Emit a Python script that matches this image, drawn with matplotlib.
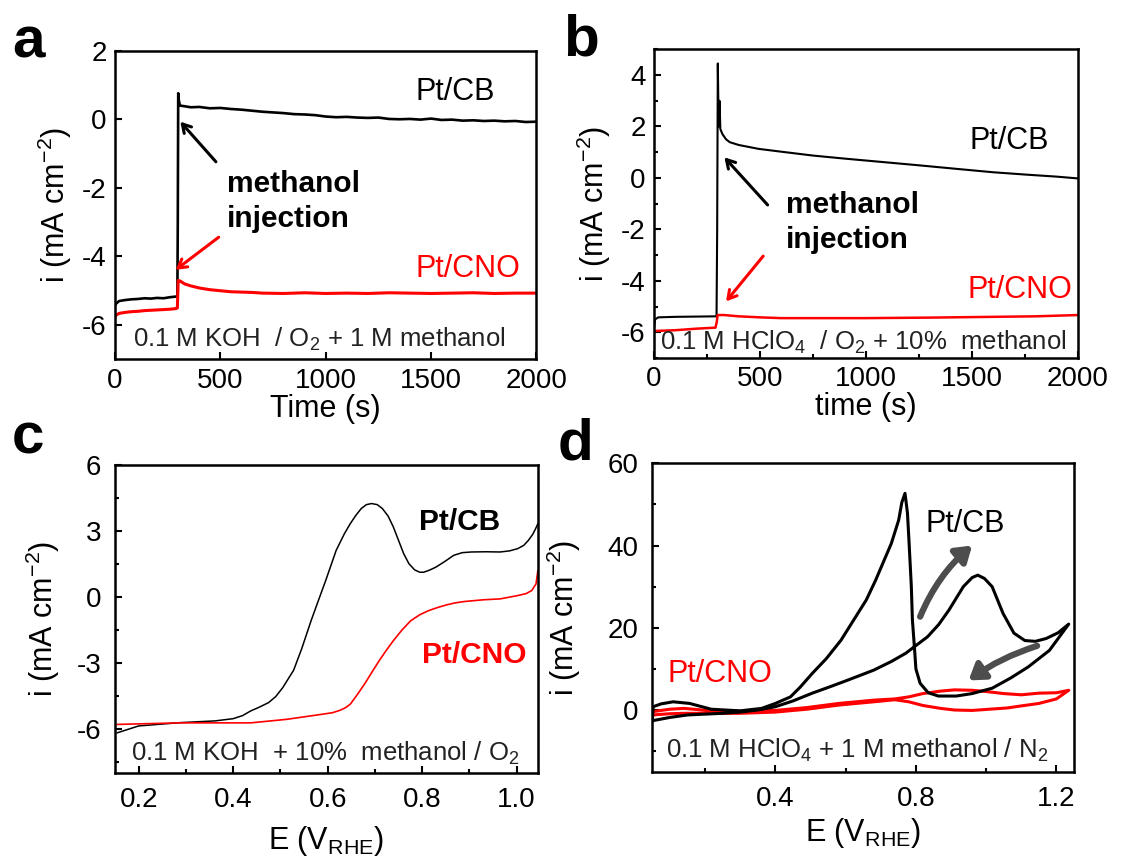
import matplotlib
matplotlib.use("Agg")
import matplotlib.pyplot as plt
from matplotlib.ticker import MultipleLocator

plt.rcParams['font.family'] = ['Liberation Sans', 'DejaVu Sans']
plt.rcParams['mathtext.fontset'] = 'custom'
plt.rcParams['mathtext.rm'] = 'Liberation Sans'
plt.rcParams['mathtext.it'] = 'Liberation Sans:italic'
plt.rcParams['mathtext.bf'] = 'Liberation Sans:bold'
plt.rcParams['axes.unicode_minus'] = False

# ---------------- (a) chronoamperometry, 0.1 M KOH ----------------
a_t_cb = [0, 8, 20, 50, 80, 110, 140, 170, 200, 230, 260, 290, 296, 298, 300, 303, 308,
          330, 360, 400, 450, 500, 550, 600, 650, 700, 750, 800, 850, 900, 950, 1000,
          1050, 1100, 1150, 1200, 1250, 1300, 1350, 1400, 1450, 1500, 1550, 1600, 1650,
          1700, 1750, 1800, 1850, 1900, 1950, 2000]
a_i_cb = [-5.42, -5.36, -5.30, -5.27, -5.25, -5.24, -5.22, -5.23, -5.21, -5.22, -5.19, -5.17,
          -5.15, -3.00, 0.76, 0.55, 0.40, 0.38, 0.35, 0.36, 0.32, 0.33, 0.30, 0.28, 0.25,
          0.22, 0.20, 0.18, 0.15, 0.14, 0.12, 0.08, 0.06, 0.07, 0.05, 0.04, 0.05, 0.01,
          0.00, 0.01, -0.01, 0.02, -0.02, -0.01, -0.04, -0.03, -0.05, -0.04, -0.06, -0.05,
          -0.08, -0.07]
a_t_cno = [0, 8, 20, 50, 80, 110, 140, 170, 200, 230, 260, 290, 296, 300, 310, 330, 360,
           400, 450, 500, 550, 600, 650, 700, 800, 900, 1000, 1100, 1200, 1300, 1400,
           1500, 1600, 1700, 1800, 1900, 2000]
a_i_cno = [-5.75, -5.70, -5.66, -5.63, -5.61, -5.60, -5.58, -5.57, -5.56, -5.55, -5.54,
           -5.52, -5.50, -4.70, -4.72, -4.80, -4.86, -4.92, -4.97, -5.00, -5.03, -5.04,
           -5.05, -5.07, -5.08, -5.06, -5.08, -5.07, -5.08, -5.06, -5.07, -5.08, -5.07,
           -5.06, -5.08, -5.07, -5.07]

# ---------------- (b) chronoamperometry, 0.1 M HClO4 ----------------
b_t_cb = [0, 5, 20, 100, 200, 295, 298, 301, 305, 309, 313, 323, 340, 357, 400, 493, 600,
          749, 900, 1089, 1250, 1430, 1600, 1770, 1900, 2000]
b_i_cb = [-5.85, -5.50, -5.42, -5.40, -5.39, -5.38, -2.00, 4.45, 2.00, 3.00, 1.90, 1.70,
          1.50, 1.39, 1.28, 1.13, 1.02, 0.87, 0.75, 0.61, 0.49, 0.35, 0.22, 0.12, 0.05,
          -0.02]
b_t_cno = [0, 100, 200, 290, 296, 300, 330, 400, 500, 600, 1000, 1300, 1500, 1800, 2000]
b_i_cno = [-5.95, -5.92, -5.86, -5.82, -5.60, -5.33, -5.33, -5.38, -5.42, -5.45, -5.45,
           -5.43, -5.41, -5.38, -5.33]

# ---------------- (c) LSV, 0.1 M KOH + 10% methanol / O2 ----------------
c_e_cb = [0.155, 0.20, 0.287, 0.362, 0.40, 0.42, 0.437, 0.455, 0.475, 0.49, 0.505, 0.528,
          0.545, 0.565, 0.58, 0.596, 0.618, 0.635, 0.648, 0.660, 0.671, 0.682, 0.693,
          0.705, 0.716, 0.728, 0.739, 0.750, 0.761, 0.772, 0.784, 0.795, 0.803, 0.815,
          0.829, 0.848, 0.867, 0.885, 0.904, 0.935, 0.965, 0.985, 1.002, 1.015, 1.025,
          1.034, 1.04, 1.045]
c_i_cb = [-6.16, -5.85, -5.70, -5.62, -5.52, -5.38, -5.17, -5.00, -4.79, -4.52, -4.11,
          -3.32, -2.35, -1.07, -0.18, 0.76, 2.12, 2.86, 3.34, 3.72, 4.02, 4.20, 4.25,
          4.20, 4.02, 3.68, 3.19, 2.58, 1.97, 1.52, 1.24, 1.13, 1.13, 1.22, 1.36, 1.62,
          1.90, 2.02, 2.05, 2.06, 2.05, 2.10, 2.20, 2.35, 2.58, 2.85, 3.10, 3.34]
c_e_cno = [0.155, 0.287, 0.437, 0.513, 0.588, 0.610, 0.626, 0.638, 0.648, 0.662, 0.678,
           0.694, 0.709, 0.724, 0.739, 0.757, 0.776, 0.795, 0.814, 0.833, 0.852, 0.870,
           0.889, 0.93, 0.965, 1.002, 1.02, 1.032, 1.041, 1.045]
c_i_cno = [-5.78, -5.71, -5.71, -5.55, -5.32, -5.25, -5.14, -5.02, -4.86, -4.45, -3.95,
           -3.40, -2.89, -2.42, -1.98, -1.50, -1.07, -0.80, -0.61, -0.47, -0.35, -0.26,
           -0.20, -0.12, -0.08, 0.07, 0.16, 0.30, 0.60, 1.21]

# ---------------- (d) CV, 0.1 M HClO4 + 1 M methanol / N2 ----------------
d_e_cb = [0.05, 0.10, 0.15, 0.25, 0.30, 0.35, 0.40, 0.45, 0.505, 0.56, 0.607, 0.68, 0.73,
          0.771, 0.833, 0.865, 0.894, 0.935, 0.96, 0.976, 0.995, 1.017, 1.048, 1.079,
          1.11, 1.14, 1.171, 1.205, 1.235,
          1.18, 1.12, 1.07, 1.017, 0.96, 0.915, 0.864, 0.835, 0.812, 0.80, 0.797, 0.79,
          0.787, 0.781, 0.776, 0.769, 0.76, 0.751, 0.73, 0.71, 0.685, 0.659, 0.62,
          0.587, 0.545, 0.505, 0.47, 0.443, 0.40, 0.361, 0.30, 0.217, 0.156, 0.109,
          0.075, 0.052, 0.05]
d_i_cb = [-2.6, -1.8, -1.2, -0.8, -0.5, 0.0, 0.8, 2.2, 4.1, 5.8, 7.3, 9.7, 11.8, 13.8,
          17.8, 20.8, 24.3, 30.0, 32.2, 32.8, 32.0, 30.0, 23.5, 18.7, 16.9, 16.7, 17.4,
          18.8, 20.9,
          14.5, 10.5, 7.8, 5.3, 4.0, 3.4, 3.4, 4.2, 6.5, 10.0, 13.8, 22.0, 30.0, 40.0,
          47.9, 52.7, 50.5, 46.2, 40.5, 36.5, 31.5, 26.8, 21.5, 17.0, 12.5, 8.9, 5.5,
          3.2, 1.6, 0.4, -0.2, 0.2, 1.6, 2.0, 1.5, 0.8, -2.6]
d_e_cno = [0.05, 0.10, 0.14, 0.22, 0.30, 0.40, 0.49, 0.58, 0.68, 0.74, 0.78, 0.82, 0.87,
           0.91, 0.96, 1.01, 1.06, 1.10, 1.15, 1.20, 1.235,
           1.20, 1.15, 1.10, 1.05, 1.00, 0.96, 0.91, 0.87, 0.82, 0.78, 0.74, 0.68, 0.58,
           0.49, 0.40, 0.30, 0.22, 0.14, 0.10, 0.05, 0.05]
d_i_cno = [-1.2, -0.9, -0.8, -0.8, -0.8, -0.5, 0.2, 1.2, 2.0, 2.5, 2.0, 1.1, 0.4, 0.0,
           -0.1, 0.2, 0.5, 1.0, 1.6, 2.7, 4.8,
           4.2, 4.1, 3.7, 4.0, 4.5, 4.8, 4.9, 4.6, 4.0, 3.2, 2.7, 2.4, 1.6, 0.6, -0.1,
           -0.3, -0.2, 0.4, 0.2, -0.4, -1.2]

RED = '#ff0000'
TEXT_GREY = '#222222'
ARROW_GREY = '#4d4d4d'
W, H = 1126, 863
TICK_FS = 20
LABEL_FS = 22
NOTE_FS = 22
COND_FS = 18.5
YLABEL = r'i (mA cm$^{-2}$)'

fig = plt.figure(figsize=(W / 100, H / 100), dpi=100)


def make_axes(x0, y0, x1, y1):
    return fig.add_axes([x0 / W, 1 - y1 / H, (x1 - x0) / W, (y1 - y0) / H])


def style(ax, pad):
    for s in ax.spines.values():
        s.set_linewidth(1.8)
    ax.tick_params(which='both', direction='in', top=False, right=False,
                   labelsize=TICK_FS, width=1.5, pad=pad)
    ax.tick_params(which='major', length=5)
    ax.tick_params(which='minor', length=3)


line_arrow = dict(arrowstyle='->,head_length=0.6,head_width=0.35', lw=2.2,
                  shrinkA=0, shrinkB=0)
block_arrow = dict(arrowstyle='-|>,head_length=0.9,head_width=0.6',
                   color=ARROW_GREY, lw=4.5, shrinkA=0, shrinkB=0)

# ---- (a)
ax = make_axes(115, 50.7, 536.4, 359.3)
style(ax, 6)
ax.plot(a_t_cb, a_i_cb, color='black', lw=1.9)
ax.plot(a_t_cno, a_i_cno, color=RED, lw=2.2)
ax.set_xlim(0, 2000)
ax.set_ylim(-7, 2)
ax.xaxis.set_major_locator(MultipleLocator(500))
ax.yaxis.set_major_locator(MultipleLocator(2))
ax.set_xlabel('Time (s)', fontsize=LABEL_FS, labelpad=0)
ax.set_ylabel(YLABEL, fontsize=LABEL_FS, labelpad=6)
ax.text(1803, 0.56, 'Pt/CB', fontsize=NOTE_FS, ha='right', va='baseline')
ax.text(1922, -4.59, 'Pt/CNO', fontsize=NOTE_FS, ha='right', va='baseline', color=RED)
ax.text(530, -2.11, 'methanol', fontsize=21.5, fontweight='bold', va='baseline')
ax.text(530, -3.13, 'injection', fontsize=21.5, fontweight='bold', va='baseline')
ax.annotate('', xy=(310, -0.07), xytext=(479, -1.24),
            arrowprops=dict(color='black', **line_arrow))
ax.annotate('', xy=(288, -4.39), xytext=(492, -3.44),
            arrowprops=dict(color=RED, **line_arrow))
ax.text(85, -6.63, r'0.1 M KOH  / O$_2$ + 1 M methanol', fontsize=COND_FS,
        va='baseline', color=TEXT_GREY)

# ---- (b)
ax = make_axes(654, 49.3, 1078, 358)
style(ax, 6)
ax.plot(b_t_cb, b_i_cb, color='black', lw=1.5)
ax.plot(b_t_cno, b_i_cno, color=RED, lw=1.8)
ax.set_xlim(0, 2000)
ax.set_ylim(-7, 5)
ax.xaxis.set_major_locator(MultipleLocator(500))
ax.xaxis.set_minor_locator(MultipleLocator(250))
ax.yaxis.set_major_locator(MultipleLocator(2))
ax.yaxis.set_minor_locator(MultipleLocator(1))
ax.set_xlabel('time (s)', fontsize=LABEL_FS, labelpad=0)
ax.set_ylabel(YLABEL, fontsize=LABEL_FS, labelpad=6)
ax.text(1864, 1.13, 'Pt/CB', fontsize=NOTE_FS, ha='right', va='baseline')
ax.text(1974, -4.67, 'Pt/CNO', fontsize=NOTE_FS, ha='right', va='baseline', color=RED)
ax.text(621, -1.35, 'methanol', fontsize=21.5, fontweight='bold', va='baseline')
ax.text(621, -2.72, 'injection', fontsize=21.5, fontweight='bold', va='baseline')
ax.annotate('', xy=(332, 0.8), xytext=(536, -1.05),
            arrowprops=dict(color='black', **line_arrow))
ax.annotate('', xy=(340, -4.8), xytext=(515, -3.04),
            arrowprops=dict(color=RED, **line_arrow))
ax.text(30, -6.69, r'0.1 M HClO$_4$  / O$_2$ + 10%  methanol', fontsize=COND_FS,
        va='baseline', color=TEXT_GREY)

# ---- (c)
ax = make_axes(115, 465, 537.9, 773.3)
style(ax, 10)
ax.plot(c_e_cb, c_i_cb, color='black', lw=1.1)
ax.plot(c_e_cno, c_i_cno, color=RED, lw=1.2)
ax.set_xlim(0.15, 1.045)
ax.set_ylim(-8, 6)
ax.xaxis.set_minor_locator(MultipleLocator(0.1))
ax.yaxis.set_major_locator(MultipleLocator(3))
ax.yaxis.set_minor_locator(MultipleLocator(1.5))
ax.set_xticks([0.2, 0.4, 0.6, 0.8, 1.0])
ax.set_xticklabels(['0.2', '0.4', '0.6', '0.8', '1.0'])
ax.set_xlabel(r'E (V$_{\mathrm{RHE}}$)', fontsize=LABEL_FS, labelpad=8)
ax.set_ylabel(YLABEL, fontsize=LABEL_FS, labelpad=10)
ax.text(0.965, 3.03, 'Pt/CB', fontsize=21.5, fontweight='bold', ha='right', va='baseline')
ax.text(1.021, -2.97, 'Pt/CNO', fontsize=21.5, fontweight='bold', ha='right',
        va='baseline', color=RED)
ax.text(0.183, -7.45, r'0.1 M KOH  + 10%  methanol / O$_2$', fontsize=COND_FS,
        va='baseline', color=TEXT_GREY)

# ---- (d)
ax = make_axes(652.4, 463.3, 1074, 771.7)
style(ax, 10)
ax.plot(d_e_cno, d_i_cno, color=RED, lw=2.2)
ax.plot(d_e_cb, d_i_cb, color='black', lw=2.2)
ax.set_xlim(0.05, 1.25)
ax.set_ylim(-15, 60)
ax.xaxis.set_minor_locator(MultipleLocator(0.2))
ax.set_xticks([0.4, 0.8, 1.2])
ax.set_xticklabels(['0.4', '0.8', '1.2'])
ax.yaxis.set_minor_locator(MultipleLocator(10))
ax.set_yticks([0, 20, 40, 60])
ax.set_xlabel(r'E (V$_{\mathrm{RHE}}$)', fontsize=LABEL_FS, labelpad=3)
ax.set_ylabel(YLABEL, fontsize=LABEL_FS, labelpad=18)
ax.text(0.828, 43.4, 'Pt/CB', fontsize=NOTE_FS, va='baseline')
ax.text(0.094, 6.9, 'Pt/CNO', fontsize=NOTE_FS, va='baseline', color=RED)
ax.annotate('', xy=(0.96, 40.0), xytext=(0.812, 22.7),
            arrowprops=dict(connectionstyle='arc3,rad=-0.12', **block_arrow))
ax.annotate('', xy=(0.95, 7.2), xytext=(1.145, 15.6),
            arrowprops=dict(connectionstyle='arc3,rad=0.08', **block_arrow))
ax.text(0.089, -11.5, r'0.1 M HClO$_4$ + 1 M methanol / N$_2$', fontsize=COND_FS,
        va='baseline', color=TEXT_GREY)

# ---- panel letters
for lab, x, y in [('a', 12, 57), ('b', 563, 55), ('c', 12, 453), ('d', 558, 460)]:
    fig.text(x / W, 1 - y / H, lab, fontsize=42, fontweight='bold', va='baseline')

fig.savefig('out.png', dpi=100)
